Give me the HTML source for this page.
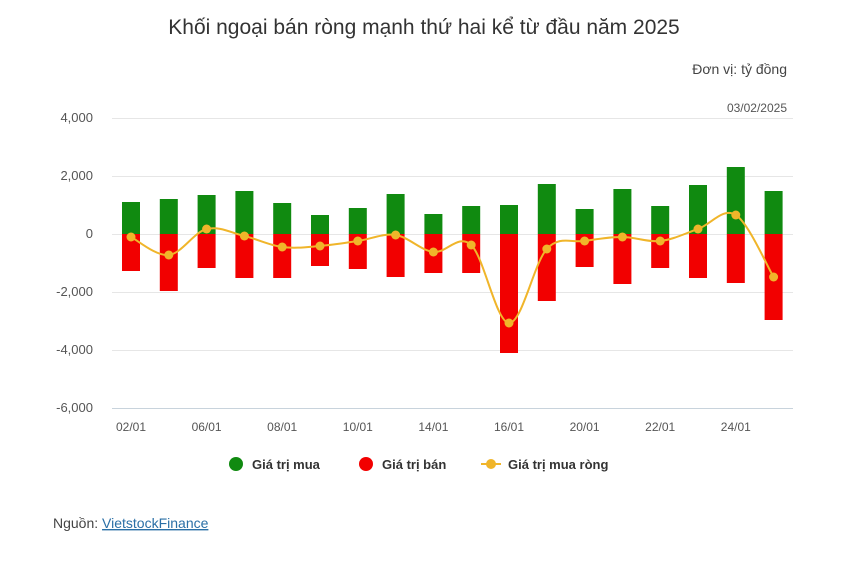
<!DOCTYPE html>
<html><head><meta charset="utf-8"><style>
body{margin:0;background:#fff;width:862px;height:561px;overflow:hidden;font-family:"Liberation Sans",Arial,sans-serif}
</style></head><body>
<svg id="s" width="862" height="561" xmlns="http://www.w3.org/2000/svg" font-family="Liberation Sans, Arial, sans-serif">
<text x="424" y="34" text-anchor="middle" font-size="21" fill="#333">Khối ngoại bán ròng mạnh thứ hai kể từ đầu năm 2025</text>
<text x="787" y="74" text-anchor="end" font-size="14" fill="#444">Đơn vị: tỷ đồng</text>
<text x="787" y="112" text-anchor="end" font-size="12" fill="#555">03/02/2025</text>
<g id="grid"></g><g id="bars"></g><g id="line"></g>
<line x1="112" y1="408.5" x2="793" y2="408.5" stroke="#c8d3dc" stroke-width="1"/>
<g font-size="12" fill="#555" id="xl"></g>
<circle cx="236" cy="464" r="7" fill="#108a10"/><text x="252" y="469" font-size="13" font-weight="bold" fill="#333">Giá trị mua</text>
<circle cx="366" cy="464" r="7" fill="#f20000"/><text x="382" y="469" font-size="13" font-weight="bold" fill="#333">Giá trị bán</text>
<line x1="481" y1="464" x2="501" y2="464" stroke="#f0b52a" stroke-width="2"/><circle cx="491" cy="464" r="5" fill="#f0b52a"/><text x="508" y="469" font-size="13" font-weight="bold" fill="#333">Giá trị mua ròng</text>
<text x="53" y="528" font-size="14" fill="#444">Nguồn: <tspan fill="#2a6fa6" text-decoration="underline">VietstockFinance</tspan></text>
</svg>
<script>
(function(){
var NS="http://www.w3.org/2000/svg";function el(p,t,a,txt){var e=document.createElementNS(NS,t);for(var k in a)e.setAttribute(k,a[k]);if(txt)e.textContent=txt;document.getElementById(p).appendChild(e);}
var labs=["4,000","2,000","0","-2,000","-4,000","-6,000"],i;
for(i=0;i<6;i++){var y=118+58*i;if(i<5)el("grid","line",{x1:112,x2:793,y1:y+.5,y2:y+.5,stroke:"#e6e6e6"});el("grid","text",{x:93,y:y+4,"text-anchor":"end","font-size":13,fill:"#555"},labs[i]);}
var tp=[202,199,195,191,203,215,208,194,214,206,205,184,209,189,206,185,167,191];
var bot=[271,291,268,278,278,266,269,277,273,273,353,301,267,284,268,278,283,320];
var net=[237,255,229,236,247,246,241,235,252,245,323,249,241,237,241,229,215,277];
var xs=[];for(i=0;i<18;i++)xs.push(131+i*37.8);
for(i=0;i<18;i++){el("bars","rect",{x:xs[i]-9,y:tp[i],width:18,height:234-tp[i],fill:"#108a10"});el("bars","rect",{x:xs[i]-9,y:234,width:18,height:bot[i]-234,fill:"#f20000"});}
var xl=["02/01","06/01","08/01","10/01","14/01","16/01","20/01","22/01","24/01"];
for(i=0;i<9;i++)el("xl","text",{x:xs[i*2],y:431,"text-anchor":"middle"},xl[i]);
var d="M"+xs[0]+","+net[0];
for(i=0;i<17;i++){var p0=i?i-1:0,p3=i<16?i+2:17,t=0.17;
var c1x=xs[i]+(xs[i+1]-xs[p0])*t,c1y=net[i]+(net[i+1]-net[p0])*t,c2x=xs[i+1]-(xs[p3]-xs[i])*t,c2y=net[i+1]-(net[p3]-net[i])*t;
d+=" C"+c1x+","+c1y+" "+c2x+","+c2y+" "+xs[i+1]+","+net[i+1];}
el("line","path",{d:d,fill:"none",stroke:"#f0b52a","stroke-width":2});
for(i=0;i<18;i++)el("line","circle",{cx:xs[i],cy:net[i],r:4.5,fill:"#f0b52a"});
})();
</script>
</body></html>
